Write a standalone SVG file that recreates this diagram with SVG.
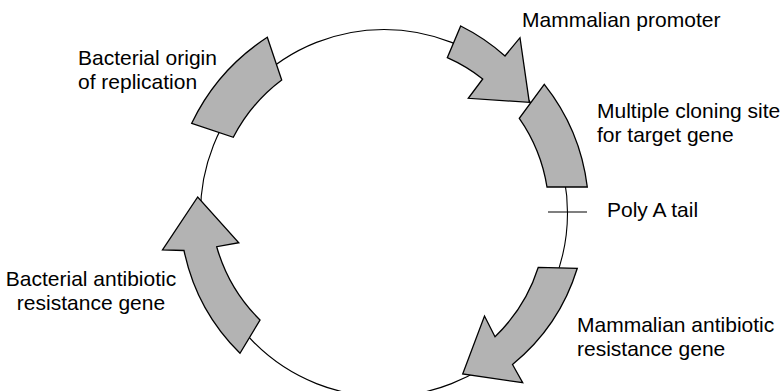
<svg xmlns="http://www.w3.org/2000/svg" width="783" height="391" viewBox="0 0 783 391">
<style>
.seg{fill:#b3b3b3;stroke:#000;stroke-width:1.3;stroke-linejoin:miter}
.bb{fill:none;stroke:#000;stroke-width:1.1}
text{font-family:"Liberation Sans",Arial,Helvetica,sans-serif;font-size:21px;fill:#000}
</style>
<rect width="783" height="391" fill="#fff"/>
<g id="connectors">
<circle class="bb" cx="384" cy="213" r="183.5"/>
<line class="bb" x1="548" y1="212" x2="587" y2="212"/>
</g>
<g id="origin">
<path class="seg" d="M267.3,37.3 L281.7,80 A168 168 0 0 0 233.3,137.3 L191.7,123.3 A211 211 0 0 1 267.3,37.3 Z"/>
<text x="78" y="65">Bacterial origin</text>
<text x="78" y="89">of replication</text>
</g>
<g id="promoter">
<path class="seg" d="M460.7,26 A200 200 0 0 1 505,56 L520,37.7 L529.3,102.3 L468.3,98.3 L482.7,79 A167 167 0 0 0 447.3,57.7 Z"/>
<text x="522" y="27">Mammalian promoter</text>
</g>
<g id="mcs">
<path class="seg" d="M544.3,84.3 A205 205 0 0 1 587.3,187 L547,187 A165 165 0 0 0 519.3,118.3 Z"/>
<text x="597" y="118">Multiple cloning site</text>
<text x="597" y="142">for target gene</text>
</g>
<g id="polya">
<text x="607" y="217">Poly A tail</text>
</g>
<g id="mammalian-resistance">
<path class="seg" d="M538.3,267.3 L577.3,268.3 A200 200 0 0 1 512.5,364.5 L522.7,382.7 L462.7,374 L484.5,316 L495,336.7 A165 165 0 0 0 538.3,267.3 Z"/>
<text x="577" y="332">Mammalian antibiotic</text>
<text x="577" y="356">resistance gene</text>
</g>
<g id="bacterial-resistance">
<path class="seg" d="M240,353.3 A202 202 0 0 1 184,250.5 L162.5,250 L197.7,197 L238.8,242.7 L216.7,246.7 A167 167 0 0 0 260,320 Z"/>
<text x="91" y="286" text-anchor="middle">Bacterial antibiotic</text>
<text x="91" y="310" text-anchor="middle">resistance gene</text>
</g>
</svg>
